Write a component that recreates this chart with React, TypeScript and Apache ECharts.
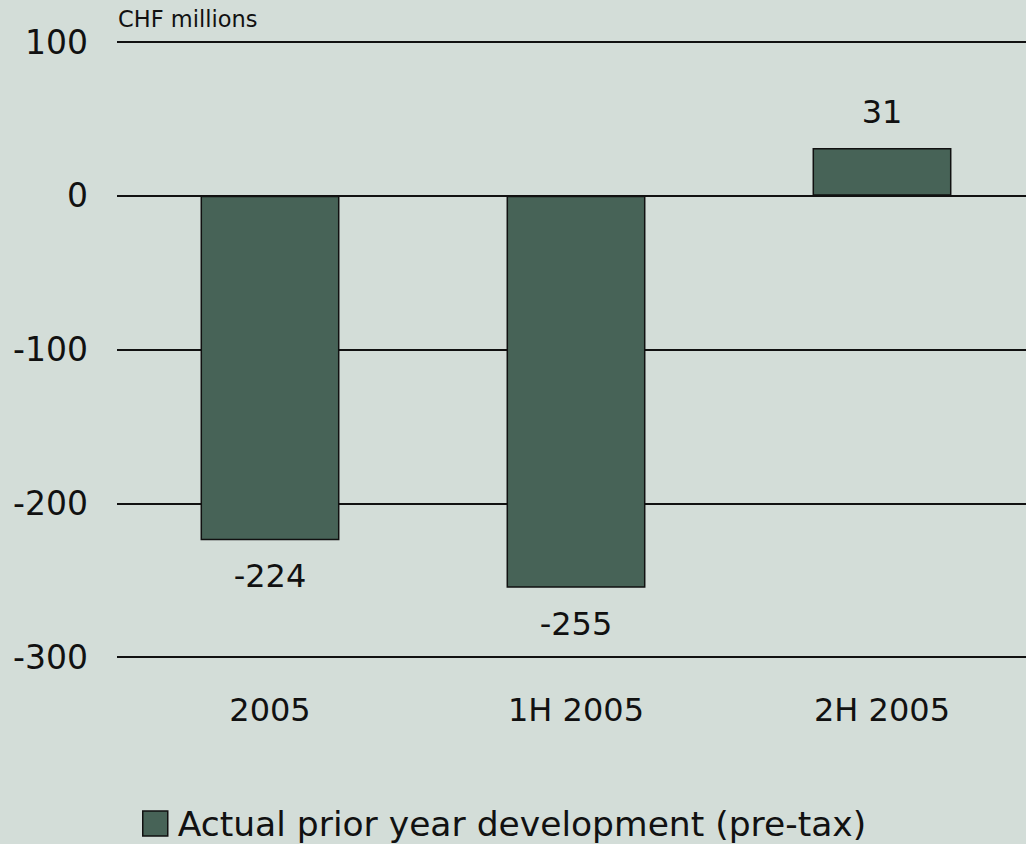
import React, { useEffect, useRef } from "react";
import * as echarts from "echarts";

const categories = ["2005", "1H 2005", "2H 2005"];
const values = [-224, -255, 31];
const seriesName = "Actual prior year development (pre-tax)";
const unitLabel = "CHF millions";

export default function App() {
  const ref = useRef<HTMLDivElement>(null);
  useEffect(() => {
    const chart = echarts.init(ref.current!, null, { renderer: "svg", width: 1026, height: 844 });
    const font = "'DejaVu Sans', Verdana, sans-serif";
    chart.setOption({
      animation: false,
      backgroundColor: "#d3ddd8",
      textStyle: { fontFamily: font },
      grid: {
        left: 117,
        width: 918,
        top: 42,
        bottom: 187,
        containLabel: false,
        outerBoundsMode: "none",
      },
      legend: {
        top: 801,
        left: 137,
        icon: "rect",
        itemWidth: 25,
        itemHeight: 25,
        textStyle: { fontSize: 34.5, color: "#111", fontFamily: font, padding: [0, 0, 0, 5] },
        data: [{ name: seriesName, itemStyle: { borderColor: "#111", borderWidth: 1.5 } }],
      },
      xAxis: {
        type: "category",
        data: categories,
        axisLine: { show: false },
        axisTick: { show: false },
        axisLabel: { fontSize: 32, color: "#111", margin: 37, fontFamily: font },
      },
      yAxis: {
        type: "value",
        min: -300,
        max: 100,
        interval: 100,
        axisLine: { show: false },
        axisTick: { show: false },
        axisLabel: { fontSize: 33, color: "#111", margin: 29, fontFamily: font },
        splitLine: { lineStyle: { color: "#111", width: 2 } },
      },
      graphic: [
        {
          type: "text",
          left: 118,
          top: 7,
          style: { text: unitLabel, fontSize: 22.5, fill: "#111", fontFamily: font },
        },
      ],
      series: [
        {
          name: seriesName,
          type: "bar",
          data: values,
          barWidth: "45.4%",
          itemStyle: { color: "#476357", borderColor: "#111", borderWidth: 1.5 },
          label: {
            show: true,
            position: "outside",
            fontSize: 32,
            color: "#111",
            distance: 20,
            fontFamily: font,
          },
        },
      ],
    });
    return () => chart.dispose();
  }, []);
  return (
    <div
      ref={ref}
      style={{ position: "fixed", left: 0, top: 0, width: 1026, height: 844 }}
    />
  );
}
